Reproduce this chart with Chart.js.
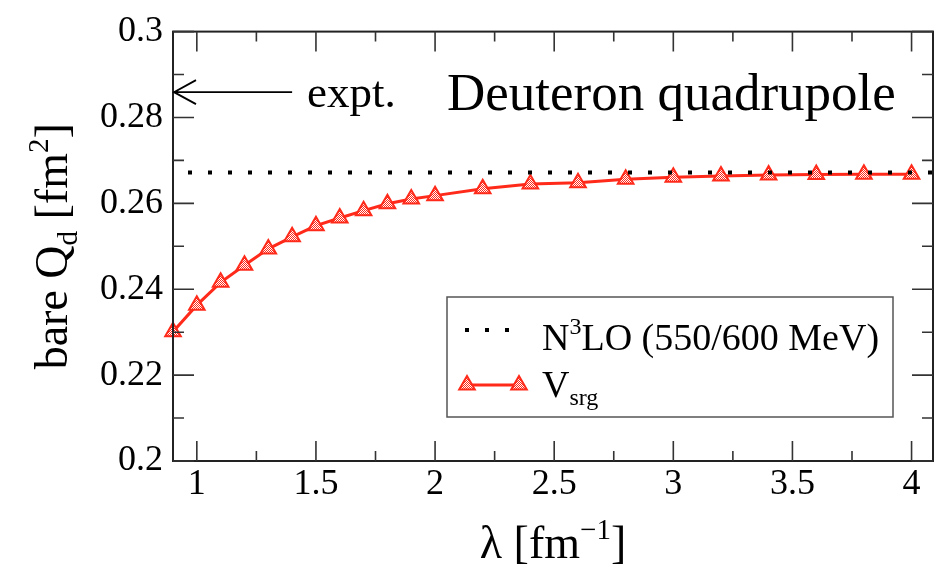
<!DOCTYPE html>
<html>
<head>
<meta charset="utf-8">
<script src="https://cdn.jsdelivr.net/npm/chart.js@4.4.1/dist/chart.umd.min.js"></script>
<style>
  html, body { margin: 0; padding: 0; background: #fff; }
  #wrap { width: 944px; height: 566px; position: relative; }
</style>
</head>
<body>
<div id="wrap"><canvas id="chart" width="944" height="566"></canvas></div>
<script>
// lambda [fm^-1] and bare Q_d [fm^2]
const lambdaVals = [0.9, 1.0, 1.1, 1.2, 1.3, 1.4, 1.5, 1.6, 1.7, 1.8, 1.9, 2.0,
                    2.2, 2.4, 2.6, 2.8, 3.0, 3.2, 3.4, 3.6, 3.8, 4.0];
const qdVals = [0.2301, 0.2363, 0.2416, 0.2456, 0.2494, 0.2522, 0.2548, 0.2566, 0.2583, 0.2599, 0.2610, 0.2618,
                0.2634, 0.2645, 0.2648, 0.2656, 0.2661, 0.2664, 0.2666, 0.2667, 0.2668, 0.2668];
const n3loValue = 0.2672;
const exptValue = 0.2859;
const xRange = [0.9, 4.09];
const yRange = [0.2, 0.3];
const xMajorTicks = [1, 1.5, 2, 2.5, 3, 3.5, 4];
const xMinorTicks = [1.25, 1.75, 2.25, 2.75, 3.25, 3.75];
const yMajorTicks = [0.2, 0.22, 0.24, 0.26, 0.28, 0.3];
const yMinorTicks = [0.21, 0.23, 0.25, 0.27, 0.29];
const arrowEnd = 1.4;

const RED = '#ff2a1a';
const SERIF = '"Liberation Serif", "Times New Roman", serif';

// checkered fill like the xmgrace pattern
function makePattern() {
  const c = document.createElement('canvas');
  c.width = 2; c.height = 2;
  const g = c.getContext('2d');
  g.fillStyle = '#fff'; g.fillRect(0, 0, 2, 2);
  g.fillStyle = RED; g.fillRect(0, 0, 1, 1); g.fillRect(1, 1, 1, 1);
  return g.createPattern(c, 'repeat');
}
const triFill = makePattern();

function drawRich(ctx, parts, x, y, size, align) {
  const fontFor = m => (m ? Math.round(size * 0.62) : size) + 'px ' + SERIF;
  let w = 0;
  parts.forEach(p => { ctx.font = fontFor(p[1]); w += ctx.measureText(p[0]).width; });
  let cx = align === 'center' ? x - w / 2 : x;
  ctx.textAlign = 'left';
  ctx.textBaseline = 'alphabetic';
  parts.forEach(p => {
    ctx.font = fontFor(p[1]);
    const dy = p[1] > 0 ? -size * 0.42 : (p[1] < 0 ? size * 0.22 : 0);
    ctx.fillText(p[0], cx, y + dy);
    cx += ctx.measureText(p[0]).width;
  });
}

const decorPlugin = {
  id: 'decor',
  afterDraw(chart) {
    const ctx = chart.ctx;
    const a = chart.chartArea;
    const xs = chart.scales.x, ys = chart.scales.y;
    ctx.save();
    ctx.fillStyle = '#000';

    // frame
    ctx.strokeStyle = '#222';
    ctx.lineWidth = 2;
    ctx.strokeRect(a.left, a.top, a.right - a.left, a.bottom - a.top);

    // inward ticks on all four sides
    ctx.strokeStyle = '#333';
    ctx.lineWidth = 1.6;
    ctx.beginPath();
    const xt = (v, len) => {
      const px = xs.getPixelForValue(v);
      ctx.moveTo(px, a.bottom); ctx.lineTo(px, a.bottom - len);
      ctx.moveTo(px, a.top); ctx.lineTo(px, a.top + len);
    };
    const yt = (v, len) => {
      const py = ys.getPixelForValue(v);
      ctx.moveTo(a.left, py); ctx.lineTo(a.left + len, py);
      ctx.moveTo(a.right, py); ctx.lineTo(a.right - len, py);
    };
    xMajorTicks.forEach(v => xt(v, 20));
    xMinorTicks.forEach(v => xt(v, 10));
    yMajorTicks.forEach(v => yt(v, 21));
    yMinorTicks.forEach(v => yt(v, 11));
    ctx.stroke();

    // experimental value arrow
    const ey = ys.getPixelForValue(exptValue);
    const ex1 = xs.getPixelForValue(arrowEnd);
    ctx.strokeStyle = '#000';
    ctx.lineWidth = 1.8;
    ctx.beginPath();
    ctx.moveTo(a.left + 1, ey); ctx.lineTo(ex1, ey);
    ctx.moveTo(a.left + 23, ey - 12); ctx.lineTo(a.left + 1, ey); ctx.lineTo(a.left + 23, ey + 12);
    ctx.stroke();
    ctx.font = '45px ' + SERIF;
    ctx.textAlign = 'left';
    ctx.textBaseline = 'alphabetic';
    ctx.fillText('expt.', ex1 + 15, ey + 15);

    // title
    ctx.font = '53px ' + SERIF;
    ctx.fillText('Deuteron quadrupole', 447, 110);

    // legend
    ctx.strokeStyle = '#555';
    ctx.lineWidth = 1.5;
    ctx.strokeRect(447, 297, 446, 120);
    ctx.strokeStyle = '#000';
    ctx.lineWidth = 4;
    ctx.setLineDash([4, 16]);
    ctx.beginPath(); ctx.moveTo(465, 330); ctx.lineTo(515, 330); ctx.stroke();
    ctx.setLineDash([]);
    ctx.strokeStyle = RED;
    ctx.lineWidth = 3;
    ctx.beginPath(); ctx.moveTo(467, 385); ctx.lineTo(519, 385); ctx.stroke();
    [467, 519].forEach(px => {
      ctx.beginPath();
      ctx.moveTo(px, 385 - 9);
      ctx.lineTo(px + 7.8, 385 + 4.5);
      ctx.lineTo(px - 7.8, 385 + 4.5);
      ctx.closePath();
      ctx.fillStyle = triFill; ctx.fill();
      ctx.lineWidth = 2; ctx.stroke();
    });
    ctx.fillStyle = '#000';
    drawRich(ctx, [['N', 0], ['3', 1], ['LO (550/600 MeV)', 0]], 542, 350, 38, 'left');
    drawRich(ctx, [['V', 0], ['srg', -1]], 542, 397, 38, 'left');

    // axis titles
    drawRich(ctx, [['λ [fm', 0], ['−1', 1], [']', 0]], (a.left + a.right) / 2, 558, 46, 'center');
    ctx.save();
    ctx.translate(67, (a.top + a.bottom) / 2);
    ctx.rotate(-Math.PI / 2);
    drawRich(ctx, [['bare Q', 0], ['d', -1], [' [fm', 0], ['2', 1], [']', 0]], 0, 0, 46, 'center');
    ctx.restore();

    ctx.restore();
  }
};

const ctx = document.getElementById('chart').getContext('2d');
new Chart(ctx, {
  type: 'line',
  data: {
    datasets: [
      {
        label: 'N3LO (550/600 MeV)',
        data: [{ x: xRange[0], y: n3loValue }, { x: xRange[1], y: n3loValue }],
        borderColor: '#000',
        borderWidth: 4,
        borderDash: [4, 16],
        borderDashOffset: 5,
        borderCapStyle: 'butt',
        pointRadius: 0,
        fill: false
      },
      {
        label: 'Vsrg',
        data: lambdaVals.map((x, i) => ({ x: x, y: qdVals[i] })),
        borderColor: RED,
        borderWidth: 3,
        pointStyle: 'triangle',
        pointRadius: 9,
        pointBorderWidth: 2,
        pointBorderColor: RED,
        pointBackgroundColor: triFill,
        tension: 0,
        fill: false,
        clip: false
      }
    ]
  },
  options: {
    responsive: false,
    animation: false,
    layout: { padding: { top: 22, right: 7, left: 0, bottom: 0 } },
    plugins: { legend: { display: false }, tooltip: { enabled: false } },
    scales: {
      x: {
        type: 'linear',
        min: xRange[0], max: xRange[1],
        grid: { display: false, drawTicks: false },
        border: { display: false },
        afterBuildTicks: s => { s.ticks = xMajorTicks.map(v => ({ value: v })); },
        afterFit: s => { s.height = 105; },
        ticks: {
          padding: 2,
          color: '#000',
          font: { family: SERIF, size: 36 },
          callback: v => String(v),
          maxRotation: 0, autoSkip: false
        }
      },
      y: {
        min: yRange[0], max: yRange[1],
        grid: { display: false, drawTicks: false },
        border: { display: false },
        afterBuildTicks: s => { s.ticks = yMajorTicks.map(v => ({ value: v })); },
        afterFit: s => { s.width = 173; },
        ticks: {
          padding: 10,
          color: '#000',
          font: { family: SERIF, size: 36 },
          callback: v => String(v),
          autoSkip: false
        }
      }
    }
  },
  plugins: [decorPlugin]
});
</script>
</body>
</html>
